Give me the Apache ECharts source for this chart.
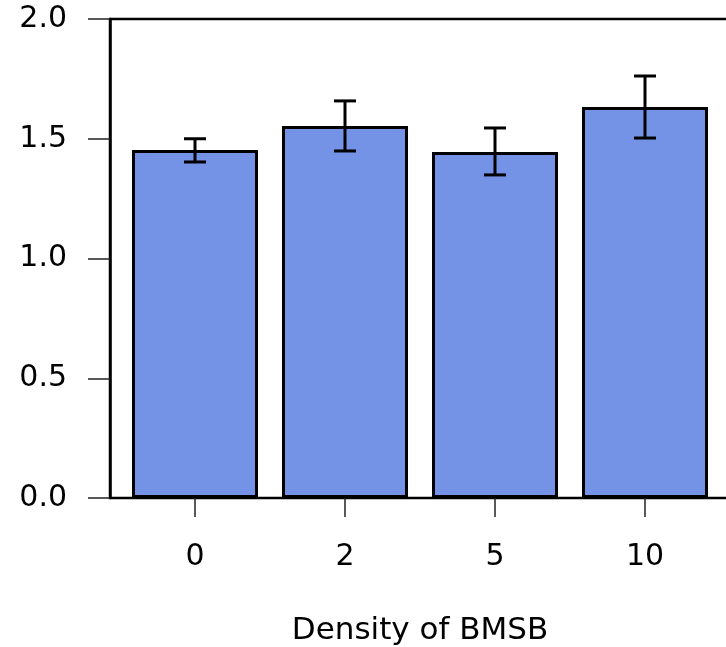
<!DOCTYPE html>
<html>
<head>
<meta charset="utf-8">
<script src="https://cdn.jsdelivr.net/npm/echarts@6/dist/echarts.min.js"></script>
<style>
    html, body { margin: 0; padding: 0; background: #fff; }
    #chart { width: 726px; height: 647px; }
</style>
</head>
<body>
<div id="chart"></div>
<script>
    const categories = ['0', '2', '5', '10']
    const means = [1.453, 1.553, 1.445, 1.633]
    const errLow = [1.403, 1.449, 1.349, 1.503]
    const errHigh = [1.50, 1.658, 1.545, 1.762]
    const yTicks = [0, 0.5, 1.0, 1.5, 2.0]

    const font = 'DejaVu Sans'
    const chart = echarts.init(document.getElementById('chart'))

    chart.setOption({
        animation: false,
        grid: [
            // data area: 4 bands of 150px
            { left: 120, right: 6, top: 19, bottom: 149, outerBoundsMode: 'none', containLabel: false },
            // plot box with the y axis
            { left: 110, right: -5, top: 19, bottom: 149, outerBoundsMode: 'none', containLabel: false,
              show: true, borderColor: '#000', borderWidth: 2.5, backgroundColor: 'transparent' }
        ],
        xAxis: [
            {
                gridIndex: 0,
                type: 'category',
                data: categories,
                boundaryGap: true,
                axisLine: { show: false },
                axisTick: { show: true, alignWithLabel: true, length: 19, lineStyle: { color: '#222', width: 1.5 } },
                axisLabel: { color: '#000', fontFamily: font, fontSize: 30, margin: 44 },
                name: 'Density of BMSB',
                nameLocation: 'middle',
                nameGap: 117,
                nameTextStyle: { color: '#000', fontFamily: font, fontSize: 31 }
            },
            { gridIndex: 1, type: 'value', show: false, min: 0, max: 1 }
        ],
        yAxis: [
            { gridIndex: 0, type: 'value', min: 0, max: 2, show: false },
            {
                gridIndex: 1,
                type: 'value',
                min: 0,
                max: 2,
                interval: 0.5,
                axisLine: { show: true, lineStyle: { color: '#000', width: 2.5 } },
                axisTick: { show: true, length: 22, lineStyle: { color: '#222', width: 1.5 } },
                splitLine: { show: false },
                axisLabel: {
                    color: '#000', fontFamily: font, fontSize: 30, margin: 43,
                    formatter: v => yTicks.includes(v) ? v.toFixed(1) : ''
                }
            }
        ],
        series: [
            {
                type: 'bar',
                xAxisIndex: 0,
                yAxisIndex: 0,
                data: means,
                barWidth: 126,
                itemStyle: { color: '#7492E6', borderColor: '#000', borderWidth: 3 }
            },
            {
                type: 'custom',
                xAxisIndex: 0,
                yAxisIndex: 0,
                z: 5,
                data: categories.map((c, i) => [i, errLow[i], errHigh[i]]),
                renderItem: (params, api) => {
                    const lo = api.coord([api.value(0), api.value(1)])
                    const hi = api.coord([api.value(0), api.value(2)])
                    const half = 11
                    const style = { stroke: '#000', lineWidth: 3 }
                    return {
                        type: 'group',
                        children: [
                            { type: 'line', shape: { x1: lo[0], y1: lo[1], x2: hi[0], y2: hi[1] }, style },
                            { type: 'line', shape: { x1: lo[0] - half, y1: lo[1], x2: lo[0] + half, y2: lo[1] }, style },
                            { type: 'line', shape: { x1: hi[0] - half, y1: hi[1], x2: hi[0] + half, y2: hi[1] }, style }
                        ]
                    }
                }
            }
        ]
    })
</script>
</body>
</html>
